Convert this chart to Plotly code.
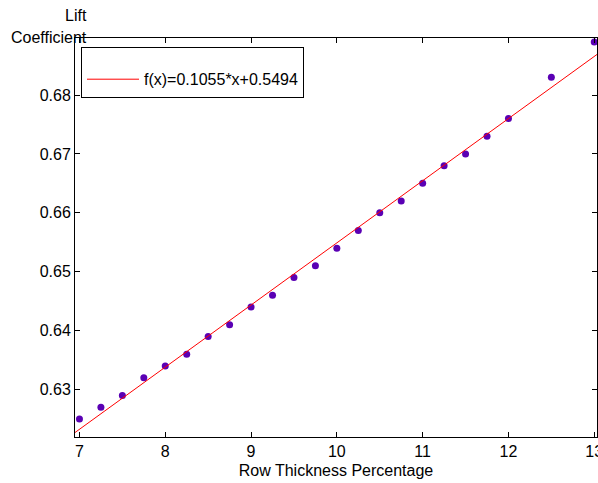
import numpy as np
import plotly.graph_objects as go

# Data
thickness = [7.0, 7.25, 7.5, 7.75, 8.0, 8.25, 8.5, 8.75, 9.0, 9.25, 9.5, 9.75,
             10.0, 10.25, 10.5, 10.75, 11.0, 11.25, 11.5, 11.75, 12.0, 12.5, 13.0]
lift = [0.625, 0.627, 0.629, 0.632, 0.634, 0.636, 0.639, 0.641, 0.644, 0.646, 0.649, 0.651,
        0.654, 0.657, 0.660, 0.662, 0.665, 0.668, 0.670, 0.673, 0.676, 0.683, 0.689]

# Linear fit parameters (as drawn)
fit_slope = 0.01055
fit_intercept = 0.5494
fit_label = "f(x)=0.1055*x+0.5494"

x_range = [6.948, 13.032]
y_range = [0.62194, 0.68968]

fit_x = np.linspace(x_range[0], x_range[1], 200)
fit_y = fit_slope * fit_x + fit_intercept

FONT = "Liberation Sans, Arial, sans-serif"

fig = go.Figure()
fig.add_trace(go.Scatter(
    x=thickness, y=lift, mode="markers",
    marker=dict(color="#5a00b4", size=7),
    showlegend=False, cliponaxis=False,
))
fig.add_trace(go.Scatter(
    x=fit_x, y=fit_y, mode="lines",
    line=dict(color="#ff0000", width=1),
    name=fit_label, showlegend=True,
))

axis_common = dict(
    showline=True, linecolor="black", linewidth=1, mirror="allticks",
    ticks="inside", ticklen=5, tickcolor="black", showgrid=False, zeroline=False,
    tickfont=dict(family=FONT, size=16, color="black"),
    ticklabeloverflow="allow", automargin=False,
)

fig.update_layout(
    width=598, height=483,
    margin=dict(l=75, r=1, t=38, b=46),
    paper_bgcolor="white", plot_bgcolor="white",
    font=dict(family=FONT, size=16, color="black"),
    xaxis=dict(range=x_range, tickmode="array", tickvals=[7, 8, 9, 10, 11, 12, 13],
               ticktext=["7", "8", "9", "10", "11", "12", "13"],
               title=dict(text="Row Thickness Percentage", font=dict(family=FONT, size=16), standoff=5),
               **axis_common),
    yaxis=dict(range=y_range, tickmode="array",
               tickvals=[0.63, 0.64, 0.65, 0.66, 0.67, 0.68],
               ticktext=["0.63", "0.64", "0.65", "0.66", "0.67", "0.68"],
               **axis_common),
    legend=dict(
        x=(81 - 75) / 522, y=1 - (47 - 38) / 399, xanchor="left", yanchor="top",
        bordercolor="black", borderwidth=1, bgcolor="white",
        itemwidth=52, font=dict(family=FONT, size=16, color="black"),
        title=dict(text=" ", font=dict(size=11)),
    ),
    annotations=[
        dict(text="Lift", xref="paper", yref="paper", x=(89 - 75) / 522, y=1 + (38 - 16) / 399,
             xanchor="right", yanchor="middle", showarrow=False,
             font=dict(family=FONT, size=16, color="black")),
        dict(text="Coefficient", xref="paper", yref="paper", x=(89 - 75) / 522, y=1 + (38 - 37) / 399,
             xanchor="right", yanchor="middle", showarrow=False,
             font=dict(family=FONT, size=16, color="black")),
    ],
)

fig.write_html("out.html")
